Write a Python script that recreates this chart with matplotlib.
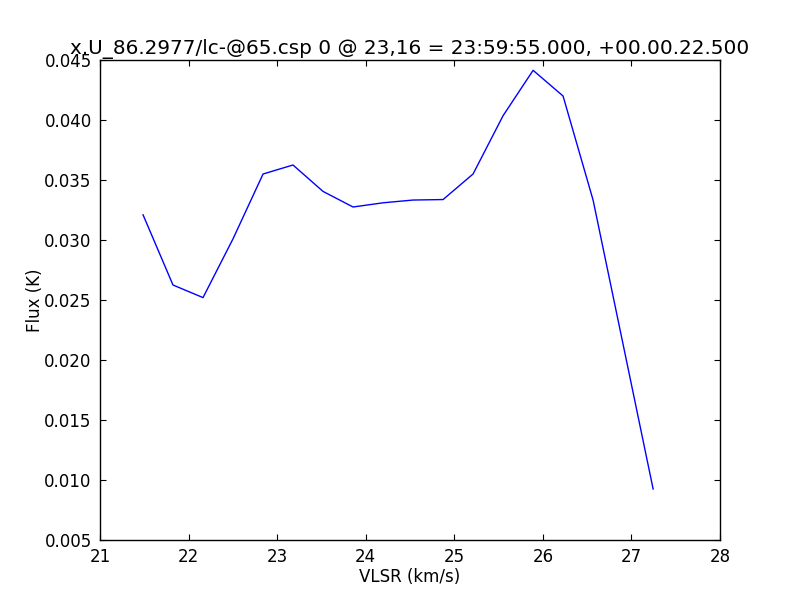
import numpy as np
import matplotlib
matplotlib.use("Agg")
import matplotlib.pyplot as plt

# spektar - brzina (km/s) i fluks (K)
vlsr = [21.486, 21.824, 22.163, 22.502, 22.841, 23.179, 23.518, 23.857,
        24.196, 24.534, 24.873, 25.212, 25.551, 25.890, 26.228, 26.567,
        26.906, 27.245]
flux = [0.0321, 0.02625, 0.0252, 0.0301, 0.0355, 0.03625, 0.03405, 0.03275,
        0.0331, 0.03333, 0.03337, 0.0355, 0.04036, 0.04414, 0.0420, 0.03333,
        0.0213, 0.00925]

naslov = "x.U_86.2977/lc-@65.csp 0 @ 23,16 = 23:59:55.000, +00.00.22.500"

plt.rcParams['font.family'] = ['DejaVu Sans']
plt.rcParams['font.size'] = 12

fig = plt.figure(figsize=(8, 6), dpi=100)
ax = fig.add_axes([0.125, 0.1, 0.775, 0.8])
ax.plot(vlsr, flux, color='#0000ff', linewidth=1.0)

ax.set_xlim(21, 28)
ax.set_ylim(0.005, 0.045)
ax.set_xticks(np.arange(21, 28.5, 1))
ax.set_yticks(np.arange(0.005, 0.0451, 0.005))
ax.set_yticklabels(['%.3f' % v for v in np.arange(0.005, 0.0451, 0.005)])
ax.tick_params(direction='in', length=4, width=0.8, top=True, right=True,
               labelsize=12, pad=6)
for s in ax.spines.values():
    s.set_linewidth(1.0)

ax.set_xlabel('VLSR (km/s)', fontsize=12, labelpad=1)
ax.set_ylabel('Flux (K)', fontsize=12, labelpad=0)
ax.set_title(naslov, fontsize=14.4, pad=4)

fig.savefig('out.png', dpi=100)
